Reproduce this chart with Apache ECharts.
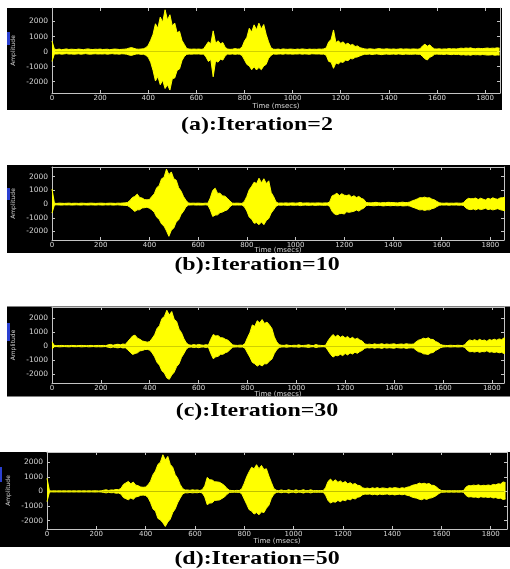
<!DOCTYPE html>
<html>
<head>
<meta charset="utf-8">
<script src="https://cdn.jsdelivr.net/npm/echarts@6/dist/echarts.min.js"></script>
<style>
  html, body { margin: 0; padding: 0; background: #ffffff; }
  #chart { width: 510px; height: 569px; }
</style>
</head>
<body>
<div id="chart"></div>
<script>
// Tick labels shared by all four panels
const timeTicks = [0, 200, 400, 600, 800, 1000, 1200, 1400, 1600, 1800];
const ampTicks = [-2000, -1000, 0, 1000, 2000];

// Panel captions
const captions = ['(a):Iteration=2', '(b):Iteration=10', '(c):Iteration=30', '(d):Iteration=50'];

// Envelope of the speech waveform, one value every 10 ms (0 .. 1860 ms)
const SAMPLE_MS = 10;

// (a) Iteration = 2
const aUpper = [
  700, 160, 140, 170, 130, 150, 180, 140, 160, 150,
  140, 170, 150, 130, 160, 180, 150, 140, 160, 150,
  170, 140, 150, 160, 130, 150, 170, 160, 140, 150,
  160, 180, 230, 270, 220, 170, 160, 170, 190, 260,
  420, 750, 1150, 1850, 1550, 2300, 1950, 2780, 2100, 2450,
  1700, 1900, 1250, 1350, 750, 480, 200, 170, 160, 170,
  160, 170, 150, 180, 420, 650, 520, 1380, 560, 720,
  520, 600, 280, 170, 150, 160, 200, 170, 180, 300,
  700, 950, 1550, 1300, 1780, 1450, 1890, 1500, 1800, 1150,
  650, 250, 160, 150, 170, 140, 180, 160, 150, 170,
  160, 140, 170, 150, 180, 160, 140, 170, 150, 160,
  150, 170, 160, 180, 250, 650, 800, 1440, 600, 720,
  550, 650, 480, 560, 430, 480, 340, 380, 260, 220,
  180, 160, 190, 170, 150, 180, 200, 170, 160, 190,
  170, 160, 180, 150, 170, 190, 160, 180, 170, 160,
  180, 170, 160, 190, 380, 490, 360, 450, 280, 180,
  170, 190, 160, 180, 170, 200, 180, 190, 170, 200,
  230, 210, 240, 220, 250, 200, 190, 220, 210, 200,
  220, 240, 210, 230, 220, 250, 230
];
const aLower = [
  -650, -150, -160, -140, -170, -150, -130, -160, -150, -170,
  -160, -140, -170, -150, -130, -160, -170, -150, -140, -160,
  -150, -160, -140, -170, -150, -130, -160, -150, -170, -140,
  -150, -170, -220, -250, -200, -160, -150, -180, -170, -240,
  -380, -700, -1250, -1950, -1650, -2200, -1900, -2450, -2200, -2555,
  -1800, -1750, -1250, -1150, -600, -320, -180, -160, -170, -150,
  -160, -150, -170, -160, -350, -650, -520, -1670, -600, -700,
  -500, -560, -280, -160, -170, -150, -180, -160, -170, -260,
  -550, -850, -950, -1200, -1000, -1220, -1050, -1200, -950, -850,
  -450, -250, -150, -170, -160, -150, -170, -140, -160, -150,
  -170, -150, -160, -140, -170, -150, -160, -180, -140, -150,
  -160, -150, -170, -160, -250, -650, -700, -1110, -750, -820,
  -680, -720, -560, -600, -460, -480, -380, -350, -280, -220,
  -170, -180, -160, -190, -170, -150, -180, -200, -170, -160,
  -180, -170, -160, -180, -150, -170, -190, -160, -170, -180,
  -170, -160, -180, -170, -320, -480, -555, -380, -300, -180,
  -160, -180, -170, -190, -160, -180, -200, -170, -190, -180,
  -220, -200, -230, -210, -240, -190, -210, -200, -220, -190,
  -210, -230, -220, -200, -240, -220, -230
];

// (b) Iteration = 10
const bUpper = [
  1100, 60, 50, 70, 60, 50, 60, 70, 50, 60,
  60, 50, 70, 60, 50, 60, 70, 60, 50, 60,
  70, 60, 50, 60, 70, 60, 50, 70, 60, 80,
  90, 120, 260, 480, 560, 730, 480, 440, 330, 310,
  330, 560, 750, 1200, 1350, 1850, 1950, 2550, 2150, 2350,
  1850, 1750, 1200, 950, 550, 280, 80, 60, 70, 60,
  70, 60, 50, 70, 60, 450, 1000, 1160, 780, 800,
  600, 580, 420, 250, 70, 60, 70, 60, 50, 200,
  560, 1050, 1300, 1600, 1500, 1890, 1550, 1850, 1500, 1700,
  850, 550, 150, 70, 80, 70, 90, 70, 80, 90,
  70, 80, 120, 70, 80, 90, 70, 80, 70, 90,
  80, 70, 90, 80, 150, 600, 680, 800, 620, 760,
  650, 620, 680, 520, 610, 480, 560, 420, 350, 120,
  100, 90, 110, 130, 100, 90, 110, 100, 130, 120,
  110, 100, 90, 120, 140, 110, 120, 150, 250, 300,
  380, 470, 460, 510, 450, 470, 360, 310, 200, 100,
  70, 60, 80, 60, 70, 60, 80, 70, 60, 100,
  300, 420, 390, 400, 440, 330, 430, 360, 300, 430,
  360, 460, 390, 350, 450, 470, 500
];
const bLower = [
  -650, -60, -50, -60, -70, -50, -60, -50, -70, -60,
  -50, -60, -70, -50, -60, -70, -50, -60, -70, -50,
  -60, -70, -50, -60, -50, -70, -60, -50, -70, -80,
  -90, -110, -220, -380, -530, -420, -410, -280, -260, -220,
  -300, -420, -600, -950, -1100, -1450, -1600, -1950, -2350, -1900,
  -1750, -1300, -1150, -750, -520, -200, -70, -60, -50, -70,
  -60, -70, -60, -50, -70, -420, -900, -800, -780, -620,
  -580, -480, -420, -200, -60, -70, -60, -70, -60, -200,
  -500, -950, -1100, -1400, -1350, -1500, -1300, -1500, -1200, -1050,
  -650, -420, -150, -70, -80, -70, -80, -90, -70, -80,
  -80, -70, -110, -80, -70, -90, -80, -70, -90, -80,
  -70, -80, -90, -70, -150, -520, -720, -780, -700, -680,
  -720, -560, -600, -560, -520, -430, -510, -380, -300, -110,
  -90, -100, -120, -110, -90, -100, -130, -110, -100, -120,
  -100, -110, -120, -100, -130, -120, -110, -140, -220, -280,
  -350, -420, -400, -460, -410, -420, -330, -290, -180, -90,
  -60, -70, -60, -80, -60, -70, -60, -80, -70, -100,
  -280, -380, -400, -350, -420, -330, -400, -360, -300, -400,
  -360, -420, -380, -330, -400, -450, -480
];

// (c) Iteration = 30
const cUpper = [
  300, 40, 30, 40, 50, 30, 40, 30, 50, 40,
  30, 40, 50, 40, 30, 40, 50, 30, 40, 50,
  40, 50, 30, 90, 120, 60, 110, 130, 90, 150,
  120, 320, 520, 720, 775, 560, 480, 360, 320, 280,
  320, 550, 800, 1250, 1450, 1950, 2100, 2540, 2200, 2450,
  1900, 1750, 1200, 950, 520, 220, 90, 60, 110, 70,
  120, 80, 60, 100, 70, 480, 820, 720, 740, 600,
  580, 480, 420, 250, 80, 60, 50, 70, 60, 180,
  600, 950, 1500, 1400, 1800, 1650, 1880, 1600, 1700, 1500,
  1250, 650, 300, 100, 60, 50, 90, 50, 40, 60,
  50, 90, 40, 50, 60, 100, 50, 40, 110, 60,
  50, 40, 60, 380, 620, 820, 660, 780, 620, 720,
  580, 680, 520, 620, 480, 560, 430, 360, 150, 120,
  140, 100, 160, 120, 130, 170, 110, 150, 120, 140,
  160, 110, 130, 150, 120, 170, 140, 130, 150, 300,
  420, 470, 560, 520, 590, 480, 470, 330, 250, 120,
  60, 50, 40, 60, 50, 40, 60, 50, 40, 100,
  320, 440, 380, 460, 360, 480, 390, 430, 340, 470,
  410, 490, 420, 510, 460, 580, 540
];
const cLower = [
  -200, -40, -30, -50, -40, -30, -40, -50, -30, -40,
  -40, -30, -50, -40, -30, -50, -40, -30, -50, -40,
  -50, -40, -30, -80, -110, -60, -100, -120, -80, -130,
  -110, -260, -430, -590, -520, -470, -330, -310, -240, -230,
  -280, -480, -760, -1150, -1350, -1750, -1900, -2250, -2350, -2050,
  -1850, -1450, -1250, -800, -520, -200, -80, -60, -100, -70,
  -110, -70, -60, -90, -60, -520, -890, -760, -720, -580,
  -570, -460, -400, -220, -70, -60, -50, -70, -60, -150,
  -480, -780, -1150, -1250, -1410, -1300, -1400, -1250, -1250, -1050,
  -920, -520, -250, -90, -60, -50, -80, -50, -40, -60,
  -50, -80, -40, -50, -60, -90, -50, -40, -100, -60,
  -50, -40, -60, -320, -580, -775, -660, -680, -580, -670,
  -520, -620, -480, -560, -430, -510, -380, -300, -150, -110,
  -130, -100, -150, -110, -120, -160, -100, -140, -110, -130,
  -150, -100, -120, -140, -110, -160, -130, -120, -140, -280,
  -400, -430, -540, -560, -590, -480, -450, -310, -220, -110,
  -60, -50, -40, -60, -50, -40, -60, -50, -40, -90,
  -300, -400, -380, -420, -360, -440, -380, -400, -330, -430,
  -400, -450, -410, -470, -440, -520, -500
];

// (d) Iteration = 50
const dUpper = [
  900, 40, 30, 40, 30, 40, 30, 40, 30, 40,
  30, 40, 30, 40, 30, 40, 30, 40, 30, 40,
  40, 30, 40, 80, 110, 60, 100, 90, 130, 120,
  200, 480, 580, 685, 520, 640, 430, 390, 300, 280,
  300, 450, 700, 1150, 1400, 1850, 2000, 2510, 2150, 2400,
  1850, 1650, 1150, 900, 480, 200, 90, 100, 70, 110,
  80, 100, 60, 120, 380, 960, 800, 780, 660, 650,
  620, 520, 400, 200, 80, 60, 50, 70, 60, 170,
  550, 1000, 1350, 1650, 1550, 1830, 1550, 1780, 1500, 1550,
  1050, 620, 200, 80, 50, 100, 60, 50, 120, 60,
  50, 110, 50, 60, 120, 50, 60, 110, 50, 60,
  50, 60, 50, 250, 680, 845, 660, 800, 620, 720,
  580, 680, 520, 600, 480, 540, 420, 390, 250, 200,
  230, 180, 250, 200, 260, 190, 240, 220, 180, 250,
  210, 260, 230, 200, 250, 220, 280, 320, 400, 450,
  480, 570, 520, 560, 500, 540, 420, 410, 300, 150,
  60, 50, 40, 50, 40, 50, 40, 50, 40, 60,
  300, 400, 380, 430, 400, 450, 380, 420, 400, 440,
  400, 480, 450, 520, 500, 650, 600
];
const dLower = [
  -700, -40, -30, -40, -30, -40, -30, -40, -30, -40,
  -30, -40, -30, -40, -30, -40, -30, -40, -30, -40,
  -40, -30, -40, -70, -100, -60, -90, -80, -120, -110,
  -180, -420, -500, -570, -450, -540, -380, -340, -270, -250,
  -280, -420, -760, -1200, -1350, -1850, -1950, -2150, -2400, -2100,
  -1900, -1450, -1200, -780, -470, -180, -90, -100, -70, -100,
  -80, -90, -60, -110, -380, -910, -800, -780, -620, -600,
  -580, -480, -380, -200, -70, -60, -50, -60, -60, -160,
  -520, -880, -1250, -1350, -1550, -1450, -1600, -1400, -1450, -1150,
  -950, -480, -200, -70, -50, -90, -60, -50, -110, -60,
  -50, -100, -50, -60, -110, -50, -60, -100, -50, -60,
  -50, -60, -50, -250, -620, -800, -700, -740, -620, -700,
  -580, -640, -520, -580, -460, -520, -400, -360, -230, -180,
  -200, -170, -230, -190, -240, -180, -220, -200, -170, -230,
  -190, -240, -210, -190, -230, -200, -260, -300, -380, -430,
  -460, -540, -570, -490, -550, -470, -440, -370, -280, -140,
  -60, -50, -40, -50, -40, -50, -40, -50, -40, -60,
  -280, -380, -360, -400, -380, -430, -360, -400, -380, -420,
  -380, -450, -420, -480, -460, -550, -520
];

const envelopes = [
  [aUpper, aLower],
  [bUpper, bLower],
  [cUpper, cLower],
  [dUpper, dLower]
];

// Layout of each panel: plot box, axis extents, black backdrop and caption
const panels = [
  { grid: { left: 52, top: 8, width: 448, height: 85 }, xMax: 1862, yMin: -2750, yMax: 2900,
    back: [7, 8, 495, 102], mark: [7, 32, 3, 13], nameGap: 9.5, capY: 125.5, topLine: false },
  { grid: { left: 52, top: 167, width: 452, height: 73 }, xMax: 1856, yMin: -2620, yMax: 2710,
    back: [7, 165, 503, 88], mark: [7, 188, 3, 12], nameGap: 7, capY: 265.5, topLine: true },
  { grid: { left: 52, top: 307, width: 452, height: 76 }, xMax: 1850, yMin: -2610, yMax: 2770,
    back: [7, 306.5, 503, 90], mark: [7, 323, 3, 18], nameGap: 8, capY: 411, topLine: true },
  { grid: { left: 47, top: 452, width: 460, height: 77 }, xMax: 1866, yMin: -2575, yMax: 2700,
    back: [0, 452, 510, 95], mark: [0, 467, 2, 15], nameGap: 8.5, capY: 559.5, topLine: true }
];

const AXIS_COLOR = '#c4c4c4';
const LABEL_COLOR = '#d2d2d2';
const WAVE_COLOR = '#ffff00';
const tickFont = 'DejaVu Sans';
const plain = (v) => String(v);

function pairs(values) {
  return values.map((v, i) => [i * SAMPLE_MS, v]);
}

const grids = [], xAxes = [], yAxes = [], series = [], graphics = [];

panels.forEach((p, i) => {
  grids.push(Object.assign({ outerBoundsMode: 'none', containLabel: false }, p.grid));

  const tick = { show: true, inside: true, length: 3, lineStyle: { color: AXIS_COLOR, width: 1 } };

  // bottom time axis
  xAxes.push({
    type: 'value', gridIndex: i, position: 'bottom', min: 0, max: p.xMax,
    axisLine: { show: true, onZero: false, lineStyle: { color: AXIS_COLOR, width: 1 } },
    axisTick: Object.assign({ customValues: timeTicks }, tick),
    axisLabel: { customValues: timeTicks, formatter: plain, color: LABEL_COLOR, fontSize: 7, fontFamily: tickFont, margin: 2 },
    splitLine: { show: false },
    name: 'Time (msecs)', nameLocation: 'middle', nameGap: p.nameGap, nameMoveOverlap: false,
    nameTextStyle: { color: LABEL_COLOR, fontSize: 7, fontFamily: tickFont }
  });
  // top frame
  xAxes.push({
    type: 'value', gridIndex: i, position: 'top', min: 0, max: p.xMax,
    axisLine: { show: p.topLine, onZero: false, lineStyle: { color: AXIS_COLOR, width: 1 } },
    axisTick: Object.assign({ customValues: timeTicks }, tick),
    axisLabel: { show: false },
    splitLine: { show: false }
  });
  // left amplitude axis
  yAxes.push({
    type: 'value', gridIndex: i, position: 'left', min: p.yMin, max: p.yMax,
    axisLine: { show: true, onZero: false, lineStyle: { color: AXIS_COLOR, width: 1 } },
    axisTick: Object.assign({ customValues: ampTicks }, tick),
    axisLabel: { customValues: ampTicks, formatter: plain, color: LABEL_COLOR, fontSize: 7.5, fontFamily: tickFont, margin: 4 },
    splitLine: { show: false },
    name: 'Amplitude', nameLocation: 'middle', nameGap: 36, nameMoveOverlap: false,
    nameTextStyle: { color: LABEL_COLOR, fontSize: 6, fontFamily: tickFont }
  });
  // right frame
  yAxes.push({
    type: 'value', gridIndex: i, position: 'right', min: p.yMin, max: p.yMax,
    axisLine: { show: true, onZero: false, lineStyle: { color: AXIS_COLOR, width: 1 } },
    axisTick: Object.assign({ customValues: ampTicks }, tick),
    axisLabel: { show: false },
    splitLine: { show: false }
  });

  const [upper, lower] = envelopes[i];
  [upper, lower].forEach((vals) => {
    series.push({
      type: 'line', xAxisIndex: 2 * i, yAxisIndex: 2 * i,
      data: pairs(vals), showSymbol: false, symbol: 'none', clip: true,
      lineStyle: { color: WAVE_COLOR, width: 1 },
      areaStyle: { color: WAVE_COLOR, opacity: 1, origin: 0 },
      silent: true, animation: false
    });
  });

  // black backdrop of the panel
  graphics.push({
    type: 'rect', z: -10, silent: true,
    shape: { x: p.back[0], y: p.back[1], width: p.back[2], height: p.back[3] },
    style: { fill: '#000000' }
  });
  // window-edge marker at the left side
  graphics.push({
    type: 'rect', z: -5, silent: true,
    shape: { x: p.mark[0], y: p.mark[1], width: p.mark[2], height: p.mark[3] },
    style: { fill: '#2a3fd0' }
  });
  // caption
  graphics.push({
    type: 'text', x: 257, y: p.capY, scaleX: 1.26, silent: true,
    style: {
      text: captions[i], fill: '#000000',
      fontFamily: 'Liberation Serif', fontWeight: 'bold', fontSize: 19,
      textAlign: 'center', textVerticalAlign: 'middle'
    }
  });
});

const chart = echarts.init(document.getElementById('chart'), null, { renderer: 'canvas' });
chart.setOption({
  animation: false,
  backgroundColor: '#ffffff',
  grid: grids,
  xAxis: xAxes,
  yAxis: yAxes,
  series: series,
  graphic: { elements: graphics }
});
</script>
</body>
</html>
